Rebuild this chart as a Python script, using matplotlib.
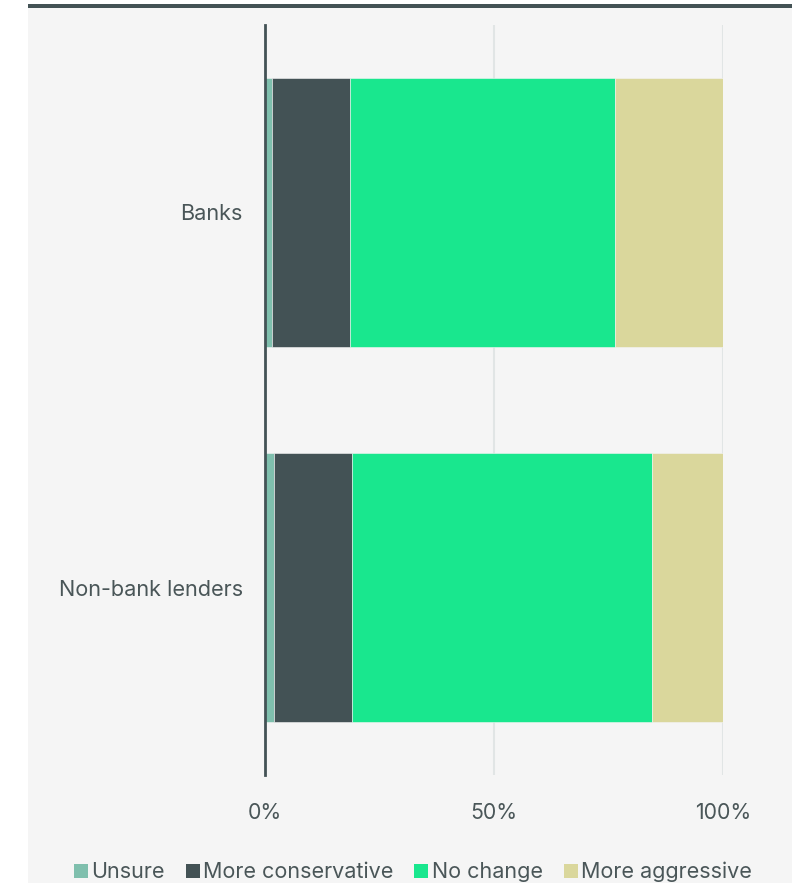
import matplotlib
matplotlib.use("Agg")
import matplotlib.pyplot as plt
from matplotlib.patches import Rectangle, Patch

plt.rcParams['font.family'] = ['Inter', 'DejaVu Sans']

categories = ["Banks", "Non-bank lenders"]
series_names = ["Unsure", "More conservative", "No change", "More aggressive"]
unsure = [1.5, 2.0]
conservative = [17.1, 17.0]
no_change = [57.8, 65.5]
aggressive = [23.6, 15.5]
tick_values = [0, 50, 100]
tick_labels = ["0%", "50%", "100%"]

colors = ["#7fbfad", "#435255", "#19e78e", "#dad79c"]
text_color = "#4a5658"

W, H = 800, 883
fig = plt.figure(figsize=(W / 100, H / 100), dpi=100)
fig.patch.set_facecolor("white")
# grey panel and top strip
fig.add_artist(Rectangle((28 / W, 0), (792 - 28) / W, 1 - 4 / H, transform=fig.transFigure,
                         facecolor="#f5f5f5", edgecolor="none", zorder=0))
fig.add_artist(Rectangle((28 / W, 1 - 8 / H), (792 - 28) / W, 4 / H, transform=fig.transFigure,
                         facecolor="#435255", edgecolor="none", zorder=1))

ax = fig.add_axes([265 / W, 1 - 775 / H, (723 - 265) / W, (775 - 25) / H])
ax.set_facecolor("none")

series = [unsure, conservative, no_change, aggressive]
y = list(range(len(categories)))
left = [0.0] * len(categories)
for name, vals, c in zip(series_names, series, colors):
    ax.barh(y, vals, left=left, height=0.717, color=c, edgecolor="#f5f5f5",
            linewidth=0.4, label=name, zorder=3)
    left = [a + b for a, b in zip(left, vals)]

ax.set_xlim(0, 100)
ax.set_ylim(1.5, -0.5)
ax.set_xticks(tick_values)
ax.set_xticklabels(tick_labels)
ax.set_yticks(y)
ax.set_yticklabels(categories)
ax.tick_params(axis="x", length=0, colors=text_color, labelsize=15.3, pad=20)
ax.tick_params(axis="y", length=0, colors=text_color, labelsize=15.6, pad=16)
for s in ["top", "right", "bottom"]:
    ax.spines[s].set_visible(False)
ax.spines["left"].set_color("#435255")
ax.spines["left"].set_linewidth(2)
ax.spines["left"].set_zorder(5)
ax.grid(axis="x", color="#e1e5e5", linewidth=1.5, zorder=0)
ax.set_axisbelow(True)

handles = [Patch(facecolor=c, edgecolor="none") for c in colors]
fig.legend(handles, series_names, loc="center", bbox_to_anchor=(413 / W, 1 - 872 / H),
           ncol=4, frameon=False, fontsize=15.5, handlelength=0.65, handleheight=0.65,
           handletextpad=0.18, columnspacing=0.95, labelcolor=text_color, borderaxespad=0)

fig.savefig("out.png", dpi=100, facecolor=fig.get_facecolor())
